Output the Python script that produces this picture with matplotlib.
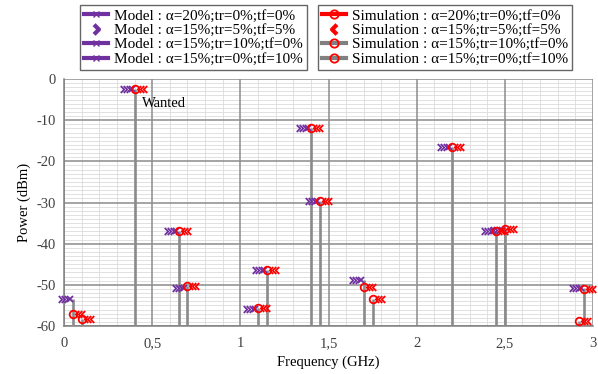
import numpy as np
import matplotlib
matplotlib.use("Agg")
import matplotlib.pyplot as plt
from matplotlib.path import Path
from matplotlib.lines import Line2D
from matplotlib.transforms import offset_copy

plt.rcParams['font.family'] = ['Liberation Serif', 'DejaVu Serif']
plt.rcParams['axes.unicode_minus'] = False

# ---------------- data ----------------
freqs = [0.05, 0.1, 0.4, 0.65, 0.7, 1.1, 1.15, 1.4, 1.45, 1.7, 1.75, 2.2, 2.45, 2.5, 2.92, 2.95]
nan = np.nan
model_a20_tr0_tf0  = [-53.5, nan, -2.5, -37.0, -50.8, -55.9, -46.4, -12.0, -29.6, -48.8, nan, -16.5, -37.0, -36.6, nan, -50.8]
model_a15_tr5_tf5  = [-53.5, nan, -2.5, -37.0, -50.8, -55.9, -46.4, -12.0, -29.6, -48.8, nan, -16.5, -37.0, -36.6, nan, -50.8]
model_a15_tr10_tf0 = [-53.5, nan, -2.5, -37.0, -50.8, -55.9, -46.4, -12.0, -29.6, -48.8, nan, -16.5, -37.0, -36.6, nan, -50.8]
model_a15_tr0_tf10 = [-53.5, nan, -2.5, -37.0, -50.8, -55.9, -46.4, -12.0, -29.6, -48.8, nan, -16.5, -37.0, -36.6, nan, -50.8]
sim_a20_tr0_tf0    = [-57.2, -58.4, -2.5, -37.0, -50.3, -55.7, -46.4, -12.0, -29.6, -50.5, -53.4, -16.5, -37.0, -36.5, -58.8, -51.0]
sim_a15_tr5_tf5    = [-57.2, -58.4, -2.5, -37.0, -50.3, -55.7, -46.4, -12.0, -29.6, -50.5, -53.4, -16.5, -37.0, -36.5, -58.8, -51.0]
sim_a15_tr10_tf0   = [-57.2, -58.4, -2.5, -37.0, -50.3, -55.7, -46.4, -12.0, -29.6, -50.5, -53.4, -16.5, -37.0, -36.5, -58.8, -51.0]
sim_a15_tr0_tf10   = [-57.2, -58.4, -2.5, -37.0, -50.3, -55.7, -46.4, -12.0, -29.6, -50.5, -53.4, -16.5, -37.0, -36.5, -58.8, -51.0]

model_labels = ["Model : α=20%;tr=0%;tf=0%", "Model : α=15%;tr=5%;tf=5%",
                "Model : α=15%;tr=10%;tf=0%", "Model : α=15%;tr=0%;tf=10%"]
sim_labels = ["Simulation : α=20%;tr=0%;tf=0%", "Simulation : α=15%;tr=5%;tf=5%",
              "Simulation : α=15%;tr=10%;tf=0%", "Simulation : α=15%;tr=0%;tf=10%"]
xticks = [0, 0.5, 1, 1.5, 2, 2.5, 3]
xticklabels = ["0", "0,5", "1", "1,5", "2", "2,5", "3"]
yticks = [0, -10, -20, -30, -40, -50, -60]

# ---------------- style ----------------
PURPLE = "#7030A0"
RED = "#FF0000"
GRAY = "#808080"

chev_r = Path([(-0.5, 1), (0.5, 0), (-0.5, -1)], [Path.MOVETO, Path.LINETO, Path.LINETO])
chev_l = Path([(0.5, 1), (-0.5, 0), (0.5, -1)], [Path.MOVETO, Path.LINETO, Path.LINETO])

fig = plt.figure(figsize=(5.98, 3.74), dpi=100)
ax = fig.add_axes([64/598, 48/374, 529/598, 247/374])

ax.set_xlim(0, 3)
ax.set_ylim(-60, 0)
ax.set_xticks(xticks)
ax.set_xticklabels(xticklabels)
ax.set_yticks(yticks)
xminor = [v for v in np.round(np.arange(0, 3.01, 0.1), 2) if abs(v * 2 - round(v * 2)) > 1e-6]
yminor = [v for v in range(-60, 1) if v % 10 != 0]
ax.set_xticks(xminor, minor=True)
ax.set_yticks(yminor, minor=True)
ax.grid(which='minor', color="#DCDCDC", linewidth=0.6)
ax.set_axisbelow(True)
# major grid drawn above the minor grid
for xv in xticks:
    ax.axvline(xv, color="#8C8C8C", linewidth=1.1, zorder=1)
for yv in yticks:
    ax.axhline(yv, color="#8C8C8C", linewidth=1.1, zorder=1)
ax.tick_params(which='both', length=0)
ax.tick_params(axis='x', pad=8, labelsize=10.5, colors='#404040')
ax.tick_params(axis='y', pad=6, labelsize=10.5, colors='#404040')
for s in ['top', 'right']:
    ax.spines[s].set_visible(False)
for s in ['left', 'bottom']:
    ax.spines[s].set_color(GRAY)
    ax.spines[s].set_linewidth(1.1)

ax.set_xlabel("Frequency (GHz)", fontsize=10.5, labelpad=4)
ax.set_ylabel("Power (dBm)", fontsize=10.5, labelpad=4)

all_series = np.array([model_a20_tr0_tf0, model_a15_tr5_tf5, model_a15_tr10_tf0, model_a15_tr0_tf10,
                       sim_a20_tr0_tf0, sim_a15_tr5_tf5, sim_a15_tr10_tf0, sim_a15_tr0_tf10], dtype=float)
tops = np.nanmax(all_series, axis=0)
ax.vlines(freqs, -60, tops, colors="#8A8A8A", linewidth=1.9, zorder=3)

def off(dx):
    return offset_copy(ax.transData, fig=fig, x=dx, y=0, units='dots')

models = [model_a20_tr0_tf0, model_a15_tr5_tf5, model_a15_tr10_tf0, model_a15_tr0_tf10]
sims = [sim_a20_tr0_tf0, sim_a15_tr5_tf5, sim_a15_tr10_tf0, sim_a15_tr0_tf10]
model_markers = ['x', chev_r, chev_r, chev_r]
model_dx = [-3, -13, -10, -7]
sim_markers = ['o', chev_l, chev_l, chev_l]
sim_dx = [0, 4, 7, 10]

for vals, m, dx in zip(models, model_markers, model_dx):
    ax.plot(freqs, vals, linestyle='none', marker=m, markersize=5 if m != 'x' else 4,
            markerfacecolor='none', markeredgecolor=PURPLE, markeredgewidth=1.3,
            transform=off(dx), zorder=5, clip_on=False)
for vals, m, dx in zip(sims, sim_markers, sim_dx):
    ax.plot(freqs, vals, linestyle='none', marker=m, markersize=5.5 if m == 'o' else 5,
            markerfacecolor='none', markeredgecolor=RED, markeredgewidth=1.3,
            transform=off(dx), zorder=6, clip_on=False)

ax.text(0.44, -6, "Wanted", fontsize=10.5, ha='left', va='center', zorder=7)

# ---------------- legends ----------------
mh = [
    Line2D([], [], color=PURPLE, lw=3, marker='x', markersize=4, markeredgecolor=PURPLE),
    Line2D([], [], color=PURPLE, lw=0, marker=chev_r, markersize=7, markerfacecolor='none', markeredgecolor=PURPLE, markeredgewidth=3),
    Line2D([], [], color=PURPLE, lw=3, marker='x', markersize=4, markeredgecolor=PURPLE),
    Line2D([], [], color=PURPLE, lw=3, marker='x', markersize=4, markeredgecolor=PURPLE),
]
sh = [
    Line2D([], [], color=RED, lw=3, marker='o', markersize=6, markerfacecolor='none', markeredgecolor=RED, markeredgewidth=1.3),
    Line2D([], [], color=RED, lw=0, marker=chev_l, markersize=7, markerfacecolor='none', markeredgecolor=RED, markeredgewidth=3),
    Line2D([], [], color=GRAY, lw=3, marker='o', markersize=6, markerfacecolor='none', markeredgecolor=RED, markeredgewidth=1.3),
    Line2D([], [], color=GRAY, lw=3, marker='o', markersize=6, markerfacecolor='none', markeredgecolor=RED, markeredgewidth=1.3),
]
common = dict(frameon=True, fancybox=False, fontsize=11, handlelength=1.6, handletextpad=0.4,
              labelspacing=0.05, borderpad=0.25, borderaxespad=0, numpoints=1)
leg1 = fig.legend(mh, model_labels, loc='upper left', bbox_to_anchor=(80/598, 1 - 5/374), **common)
leg2 = fig.legend(sh, sim_labels, loc='upper left', bbox_to_anchor=(318/598, 1 - 5/374), **common)
for lg in (leg1, leg2):
    lg.get_frame().set_edgecolor('#404040')
    lg.get_frame().set_linewidth(1.0)

fig.savefig("out.png", dpi=100)
